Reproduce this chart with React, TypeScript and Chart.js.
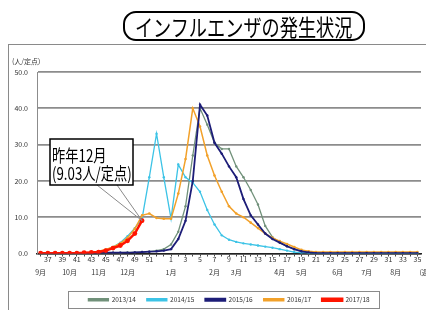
import React, { useEffect, useRef } from 'react';
import { Chart, registerables } from 'chart.js';

Chart.register(...registerables);

// ---- data ----
const weeks = [36, 37, 38, 39, 40, 41, 42, 43, 44, 45, 46, 47, 48, 49, 50, 51, 52, 53,
  1, 2, 3, 4, 5, 6, 7, 8, 9, 10, 11, 12, 13, 14, 15, 16, 17, 18, 19, 20,
  21, 22, 23, 24, 25, 26, 27, 28, 29, 30, 31, 32, 33, 34, 35];

const labeledWeeks = [37, 39, 41, 43, 45, 47, 49, 51, 1, 3, 5, 7, 9, 11, 13, 15, 17, 19,
  21, 23, 25, 27, 29, 31, 33, 35];

const monthNames = ['9月', '10月', '11月', '12月', '1月', '2月', '3月', '4月', '5月', '6月', '7月', '8月'];
const monthWeeks = [36, 40, 44, 48, 1, 7, 10, 16, 19, 24, 28, 32];

const seriesNames = ['2013/14', '2014/15', '2015/16', '2016/17', '2017/18'];

const s2013 = [0.1, 0.1, 0.1, 0.1, 0.1, 0.1, 0.1, 0.1, 0.1, 0.2, 0.2, 0.2, 0.3, 0.3, 0.4, 0.5, 0.8, 1.2,
  2.5, 6, 13, 27, 40, 35.5, 30.5, 28.8, 28.8, 24, 21, 17.5, 13.5, 7.6, 4.5, 3.0, 2.0, 1.2, 0.6, 0.3,
  0.2, 0.2, 0.2, 0.1, 0.1, 0.1, 0.1, 0.1, 0.1, 0.1, 0.1, 0.1, 0.1, 0.1, 0.1];

const s2014 = [0.1, 0.1, 0.1, 0.1, 0.1, 0.2, 0.2, 0.3, 0.5, 1.0, 1.8, 3.0, 4.8, 7.0, 9.6, 21, 33, 21,
  9.6, 24.5, 21, 19.5, 17, 12, 8, 5, 3.8, 3.2, 2.8, 2.5, 2.2, 1.9, 1.6, 1.2, 0.8, 0.4, 0.2, 0.1,
  0.1, 0.1, 0.1, 0.1, 0.1, 0.1, 0.1, 0.1, 0.1, 0.1, 0.1, 0.1, 0.1, 0.1, 0.1];

const s2015 = [0.1, 0.1, 0.1, 0.1, 0.1, 0.1, 0.1, 0.1, 0.1, 0.2, 0.2, 0.2, 0.2, 0.3, 0.4, 0.5, 0.6, 0.8,
  1.2, 4, 9, 20, 41, 38, 30.5, 27.5, 24, 21, 15, 10.5, 8, 5.5, 4.0, 3.0, 2.0, 1.2, 0.6, 0.3,
  0.1, 0.1, 0.1, 0.1, 0.1, 0.1, 0.1, 0.1, 0.1, 0.1, 0.1, 0.1, 0.1, 0.1, 0.1];

const s2016 = [0.2, 0.2, 0.2, 0.2, 0.2, 0.2, 0.2, 0.3, 0.6, 1.1, 1.8, 2.8, 4.3, 6.8, 10.5, 11, 9.8, 9.6,
  9.6, 16.5, 26, 40, 35, 27, 21.5, 17, 13, 11, 10, 8.5, 7, 5.5, 4.3, 3.4, 2.6, 1.8, 1.0, 0.6,
  0.4, 0.4, 0.4, 0.4, 0.4, 0.4, 0.4, 0.4, 0.4, 0.4, 0.4, 0.4, 0.4, 0.4, 0.4];

const s2017 = [0.1, 0.1, 0.1, 0.1, 0.1, 0.1, 0.2, 0.3, 0.4, 0.8, 1.5, 2.2, 3.5, 5.5, 9.03];

const calloutLines = ['昨年12月', '(9.03人/定点)'];
const yUnit = '(人/定点)';
const xUnit = '(週)';
const titleText = 'インフルエンザの発生状況';

const colors = ['#71917a', '#3cc3e6', '#1d1d78', '#f2a12a', '#ff1500'];

const FONT = '"Noto Sans CJK JP", "Noto Sans", sans-serif';

const extrasPlugin = {
  id: 'extras',
  afterDraw(chart: any) {
    const ctx = chart.ctx;
    ctx.save();
    // y unit
    ctx.fillStyle = '#333';
    ctx.font = `7px ${FONT}`;
    ctx.textBaseline = 'middle';
    ctx.textAlign = 'left';
    ctx.fillText(yUnit, 12, 61);
    // x unit
    const xs = chart.scales.x;
    ctx.fillText(xUnit, xs.getPixelForValue(weeks.length - 1) + 2, 272);

    // legend frame
    const lg = chart.legend;
    if (lg && lg.legendHitBoxes && lg.legendHitBoxes.length) {
      const hb = lg.legendHitBoxes;
      const l = Math.min(...hb.map((h: any) => h.left)) - 20;
      const r = Math.max(...hb.map((h: any) => h.left + h.width)) + 10;
      const cy = hb[0].top + hb[0].height / 2;
      ctx.strokeStyle = '#8a8a8a';
      ctx.lineWidth = 1;
      ctx.strokeRect(Math.round(l) + 0.5, Math.round(cy - 8.5) + 0.5, Math.round(r - l), 17);
    }

    // callout
    const meta = chart.getDatasetMeta(4);
    const pt = meta.data[s2017.length - 1];
    if (pt) {
      ctx.strokeStyle = '#8a8a8a';
      ctx.lineWidth = 1;
      ctx.beginPath();
      ctx.moveTo(97, 185);
      ctx.lineTo(pt.x, pt.y);
      ctx.lineTo(117, 185);
      ctx.stroke();
    }
    ctx.fillStyle = '#fff';
    ctx.fillRect(50, 139, 83, 46);
    ctx.strokeStyle = '#000';
    ctx.lineWidth = 1.5;
    ctx.strokeRect(50, 139, 83, 46);
    ctx.fillStyle = '#000';
    ctx.font = `17px ${FONT}`;
    ctx.textBaseline = 'alphabetic';
    calloutLines.forEach((t, k) => {
      ctx.save();
      ctx.translate(52, 162 + k * 18);
      ctx.scale(0.78, 1);
      ctx.fillText(t, 0, 0);
      ctx.restore();
    });
    ctx.restore();
  },
};

export default function App() {
  const ref = useRef<HTMLCanvasElement>(null);
  useEffect(() => {
    const data = [s2013, s2014, s2015, s2016, s2017];
    const orders = [4, 3, 1, 2, 0];
    const widths = [1.3, 1.3, 1.8, 1.5, 2.5];
    const radii = [1.2, 1.2, 1.2, 1.3, 2.4];
    const chart = new Chart(ref.current as HTMLCanvasElement, {
      type: 'line',
      data: {
        labels: weeks.map(String),
        datasets: data.map((d, k) => ({
          label: seriesNames[k],
          data: d,
          borderColor: colors[k],
          backgroundColor: colors[k],
          pointBackgroundColor: colors[k],
          pointBorderColor: colors[k],
          borderWidth: widths[k],
          pointRadius: radii[k],
          pointBorderWidth: 0,
          tension: 0,
          fill: false,
          order: orders[k],
        })),
      },
      options: {
        responsive: false,
        animation: false,
        layout: { padding: { left: 8, right: 5, top: 72, bottom: 9 } },
        plugins: {
          legend: {
            position: 'bottom',
            fullSize: false,
            labels: {
              boxWidth: 20,
              boxHeight: 2,
              padding: 11,
              color: '#333',
              font: { size: 6.5, family: FONT },
              sort: (a: any, b: any) => a.datasetIndex - b.datasetIndex,
            },
          },
          tooltip: { enabled: false },
          title: { display: false },
        },
        scales: {
          x: {
            type: 'category',
            offset: true,
            grid: { drawOnChartArea: false, drawTicks: true, tickLength: 3, color: '#444' },
            border: { color: '#222', width: 1.5 },
            ticks: {
              autoSkip: false,
              maxRotation: 0,
              minRotation: 0,
              padding: -4,
              color: '#333',
              font: { size: 7, lineHeight: 1.9, family: FONT },
              callback: (_v: any, index: number) => {
                const w = weeks[index];
                const wl = labeledWeeks.includes(w) ? String(w) : '';
                const mi = monthWeeks.indexOf(w);
                const ml = mi >= 0 ? monthNames[mi] : '';
                if (!wl && !ml) return '';
                return [wl, ml];
              },
            },
            afterFit: (s: any) => { s.height = 32; },
          },
          y: {
            min: 0,
            max: 50,
            grid: { color: '#8c8c8c', lineWidth: 1.8, drawTicks: false },
            border: { color: '#8c8c8c' },
            ticks: {
              stepSize: 10,
              padding: 9,
              color: '#333',
              font: { size: 7, family: FONT },
              callback: (v: any) => Number(v).toFixed(1),
            },
            afterFit: (s: any) => { s.width = 29; },
          },
        },
      },
      plugins: [extrasPlugin],
    } as any);
    return () => chart.destroy();
  }, []);

  return (
    <div style={{ position: 'fixed', left: 0, top: 0, width: 426, height: 310, overflow: 'hidden', background: '#fff' }}>
      <div style={{ position: 'absolute', left: 8, top: 44, width: 440, height: 300, border: '1px solid #8a8a8a' }} />
      <canvas ref={ref} width={426} height={322} style={{ position: 'absolute', left: 0, top: 0, width: 426, height: 322 }} />
      <div style={{
        position: 'absolute', left: 123, top: 11, width: 242, height: 30, boxSizing: 'border-box',
        border: '2px solid #000', borderRadius: 13, background: '#fff',
        display: 'flex', alignItems: 'center', justifyContent: 'center', overflow: 'visible',
      }}>
        <span style={{
          display: 'inline-block', fontFamily: FONT, fontSize: 23, lineHeight: 1, color: '#000',
          whiteSpace: 'nowrap', transform: 'scaleX(0.79)',
        }}>{titleText}</span>
      </div>
    </div>
  );
}
